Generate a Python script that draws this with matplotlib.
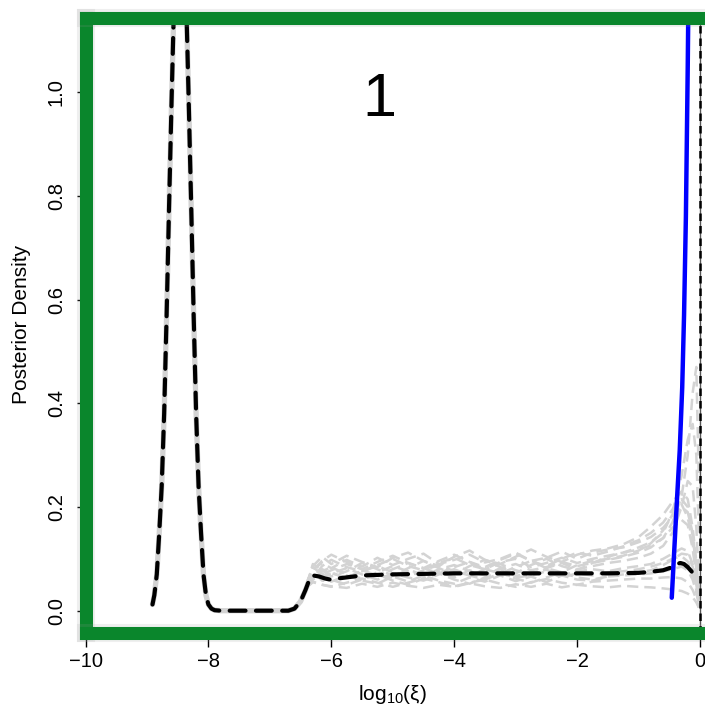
import matplotlib
matplotlib.use("Agg")
import matplotlib.pyplot as plt
import matplotlib.patheffects as pe

plt.rcParams['font.family'] = ['Liberation Sans', 'DejaVu Sans']
plt.rcParams['mathtext.fontset'] = 'custom'
plt.rcParams['mathtext.rm'] = 'Liberation Sans'
plt.rcParams['mathtext.it'] = 'Liberation Sans:italic'

# ---------------- data ----------------
# mean posterior density (black dashed)
black_x = [-8.91, -8.88, -8.84, -8.80, -8.76, -8.72, -8.68, -8.64, -8.60, -8.56,
           -8.52, -8.48, -8.44, -8.40, -8.36, -8.32, -8.28, -8.24, -8.20, -8.16,
           -8.12, -8.08, -8.04, -8.00, -7.95, -7.90, -7.80, -7.50, -7.20, -6.90,
           -6.70, -6.60, -6.50, -6.42, -6.35, -6.30, -6.20, -6.10, -6.02, -5.90,
           -5.70, -5.50, -5.00, -4.50, -4.00, -3.50, -3.00, -2.50, -2.00, -1.50,
           -1.00, -0.80, -0.60, -0.45, -0.38, -0.32, -0.26, -0.20, -0.14, -0.09,
           -0.05]
black_y = [0.012, 0.030, 0.070, 0.150, 0.240, 0.380, 0.570, 0.780, 0.980, 1.170,
           1.400, 1.550, 1.550, 1.400, 1.170, 0.980, 0.780, 0.570, 0.380, 0.240,
           0.150, 0.070, 0.030, 0.012, 0.004, 0.001, 0.000, 0.000, 0.000, 0.000,
           0.000, 0.004, 0.018, 0.040, 0.062, 0.068, 0.066, 0.062, 0.060, 0.062,
           0.065, 0.068, 0.070, 0.071, 0.072, 0.072, 0.072, 0.072, 0.072, 0.072,
           0.073, 0.075, 0.078, 0.084, 0.090, 0.092, 0.090, 0.084, 0.076, 0.068,
           0.062]

# individual posterior densities (light gray dashed), right part
gray_x = [-6.40, -6.30, -6.15, -6.00, -5.75, -5.50, -5.25, -5.00, -4.75, -4.50,
          -4.25, -4.00, -3.75, -3.50, -3.25, -3.00, -2.75, -2.50, -2.25, -2.00,
          -1.75, -1.50, -1.25, -1.00, -0.80, -0.60, -0.45, -0.30, -0.20, -0.12,
          -0.06, -0.02]
gray_1 = [0.050, 0.080, 0.092, 0.082, 0.098, 0.085, 0.102, 0.088, 0.100, 0.110,
          0.090, 0.098, 0.108, 0.093, 0.100, 0.112, 0.096, 0.102, 0.114, 0.100,
          0.112, 0.118, 0.122, 0.132, 0.142, 0.160, 0.180, 0.200, 0.190, 0.150,
          0.090, 0.040]
gray_2 = [0.045, 0.055, 0.050, 0.047, 0.044, 0.052, 0.046, 0.054, 0.048, 0.044,
          0.050, 0.046, 0.053, 0.047, 0.044, 0.051, 0.046, 0.052, 0.045, 0.050,
          0.047, 0.045, 0.048, 0.046, 0.045, 0.043, 0.041, 0.038, 0.033, 0.026,
          0.016, 0.006]
gray_3 = [0.050, 0.070, 0.064, 0.074, 0.062, 0.078, 0.068, 0.064, 0.080, 0.068,
          0.076, 0.064, 0.078, 0.069, 0.080, 0.067, 0.073, 0.079, 0.068, 0.076,
          0.080, 0.076, 0.082, 0.086, 0.090, 0.100, 0.110, 0.120, 0.115, 0.090,
          0.055, 0.020]
gray_4 = [0.048, 0.066, 0.076, 0.084, 0.070, 0.062, 0.074, 0.086, 0.076, 0.066,
          0.080, 0.088, 0.076, 0.068, 0.082, 0.090, 0.078, 0.084, 0.094, 0.086,
          0.092, 0.098, 0.104, 0.112, 0.122, 0.140, 0.170, 0.220, 0.300, 0.420,
          0.470, 0.250]
gray_5 = [0.046, 0.062, 0.086, 0.098, 0.084, 0.076, 0.088, 0.100, 0.086, 0.078,
          0.092, 0.102, 0.088, 0.080, 0.094, 0.100, 0.084, 0.092, 0.102, 0.092,
          0.100, 0.106, 0.112, 0.122, 0.132, 0.150, 0.190, 0.260, 0.330, 0.360,
          0.300, 0.150]
gray_6 = [0.050, 0.074, 0.058, 0.056, 0.068, 0.058, 0.052, 0.066, 0.056, 0.068,
          0.058, 0.052, 0.064, 0.056, 0.068, 0.057, 0.066, 0.055, 0.068, 0.060,
          0.058, 0.066, 0.068, 0.070, 0.072, 0.076, 0.080, 0.085, 0.078, 0.060,
          0.035, 0.012]
gray_7 = [0.052, 0.086, 0.104, 0.090, 0.106, 0.094, 0.084, 0.102, 0.112, 0.096,
          0.086, 0.104, 0.116, 0.098, 0.090, 0.104, 0.118, 0.104, 0.094, 0.108,
          0.116, 0.120, 0.128, 0.142, 0.162, 0.185, 0.210, 0.230, 0.215, 0.160,
          0.095, 0.040]
gray_8 = [0.047, 0.062, 0.066, 0.072, 0.082, 0.070, 0.060, 0.072, 0.064, 0.058,
          0.070, 0.080, 0.068, 0.060, 0.072, 0.064, 0.068, 0.076, 0.064, 0.072,
          0.068, 0.074, 0.076, 0.080, 0.085, 0.092, 0.100, 0.105, 0.095, 0.070,
          0.040, 0.015]
gray_9 = [0.049, 0.084, 0.070, 0.078, 0.090, 0.080, 0.068, 0.080, 0.092, 0.082,
          0.072, 0.084, 0.094, 0.080, 0.072, 0.084, 0.096, 0.082, 0.074, 0.088,
          0.096, 0.100, 0.106, 0.116, 0.130, 0.155, 0.185, 0.205, 0.180, 0.130,
          0.070, 0.025]
gray_10 = [0.046, 0.056, 0.050, 0.046, 0.054, 0.062, 0.054, 0.046, 0.054, 0.062,
           0.055, 0.047, 0.054, 0.060, 0.052, 0.046, 0.055, 0.061, 0.054, 0.050,
           0.056, 0.058, 0.060, 0.062, 0.062, 0.064, 0.065, 0.062, 0.055, 0.040,
           0.022, 0.006]
gray_11 = [0.048, 0.068, 0.080, 0.072, 0.064, 0.076, 0.086, 0.074, 0.066, 0.078,
           0.088, 0.076, 0.068, 0.080, 0.090, 0.078, 0.070, 0.082, 0.092, 0.080,
           0.086, 0.092, 0.096, 0.102, 0.110, 0.125, 0.150, 0.200, 0.250, 0.240,
           0.160, 0.060]
gray_12 = [0.050, 0.090, 0.078, 0.066, 0.076, 0.092, 0.080, 0.068, 0.082, 0.096,
           0.082, 0.070, 0.086, 0.098, 0.084, 0.072, 0.088, 0.100, 0.086, 0.078,
           0.092, 0.104, 0.112, 0.118, 0.126, 0.140, 0.160, 0.175, 0.165, 0.120,
           0.065, 0.020]
gray_13 = [0.047, 0.060, 0.072, 0.060, 0.050, 0.060, 0.070, 0.058, 0.050, 0.062,
           0.072, 0.060, 0.052, 0.064, 0.074, 0.062, 0.054, 0.064, 0.074, 0.064,
           0.060, 0.066, 0.070, 0.074, 0.078, 0.088, 0.098, 0.110, 0.108, 0.085,
           0.050, 0.018]
gray_14 = [0.051, 0.078, 0.096, 0.108, 0.094, 0.080, 0.094, 0.106, 0.092, 0.082,
           0.096, 0.108, 0.094, 0.084, 0.098, 0.110, 0.096, 0.086, 0.100, 0.112,
           0.106, 0.114, 0.124, 0.136, 0.150, 0.170, 0.195, 0.215, 0.200, 0.145,
           0.080, 0.030]
gray_series = [gray_1, gray_2, gray_3, gray_4, gray_5, gray_6, gray_7, gray_8,
               gray_9, gray_10, gray_11, gray_12, gray_13, gray_14]

# prior density (blue)
blue_x = [-0.46, -0.44, -0.42, -0.40, -0.37, -0.33, -0.29, -0.26, -0.23, -0.20, -0.17]
blue_y = [0.025, 0.070, 0.115, 0.160, 0.225, 0.310, 0.430, 0.570, 0.760, 1.050, 1.400]

vline_x = 0.0
panel_label = "1"
x_ticks = [-10, -8, -6, -4, -2, 0]
y_ticks = [0.0, 0.2, 0.4, 0.6, 0.8, 1.0]
x_label = r"log$_{\mathregular{10}}$(ξ)"
y_label = "Posterior Density"

# ---------------- figure ----------------
W, H = 705, 710
fig = plt.figure(figsize=(W / 100, H / 100), dpi=100)
ax = fig.add_axes([85.5 / W, (H - 633) / H, (709 - 85.5) / W, (633 - 18.3) / H])
ax.set_xlim(-9.9805, 0.146)
ax.set_ylim(-0.043, 1.1423)

gray_c = '#d3d3d3'
# gray individual curves: left part coincides with mean
ax.plot(black_x[:35], black_y[:35], color=gray_c, lw=3.8, zorder=1,
        solid_capstyle='round')
for gy in gray_series:
    ax.plot(gray_x, gy, color=gray_c, lw=1.8, linestyle=(0, (4.5, 2.4)), zorder=1)

ax.axvline(vline_x, color='#555555', lw=1.0, zorder=1.5)
ax.axvline(vline_x, color='black', lw=1.8, linestyle=(0, (3, 2)), zorder=1.6)

ax.plot(black_x, black_y, color='black', lw=3.0, linestyle=(0, (3.8, 2.5)),
        zorder=2, dash_capstyle='round')
ax.plot(blue_x, blue_y, color='#0000ff', lw=3.2, zorder=2.2,
        solid_capstyle='round')

ax.text(-5.21, 0.954, panel_label, fontsize=44, ha='center', va='baseline',
        color='black')

green = '#0a862c'
for s in ax.spines.values():
    s.set_color(green)
    s.set_linewidth(9.4)
    s.set_capstyle('projecting')
    s.set_zorder(4)
    s.set_path_effects([pe.Stroke(linewidth=13.0, foreground='#999999', alpha=0.15),
                        pe.Normal()])
ax.set_xticks(x_ticks)
ax.set_xticklabels([str(v).replace('-', '\u2212') for v in x_ticks])
ax.set_yticks(y_ticks)
ax.set_yticklabels([f"{v:.1f}" for v in y_ticks])
ax.tick_params(axis='x', direction='out', length=10.0, width=1.0, pad=3.5,
               labelsize=14.5, color='black')
ax.tick_params(axis='y', direction='out', length=6.2, width=1.0, pad=8.0,
               labelsize=14.5, color='black', labelrotation=90)
for lab in ax.get_yticklabels():
    lab.set_va('center')
ax.xaxis.set_zorder(3)
ax.yaxis.set_zorder(3)

fig.text(392 / W, 1 - 695 / H, x_label, fontsize=15, ha='center', va='center')
fig.text(22 / W, 1 - 324 / H, y_label, fontsize=15, ha='center', va='center',
         rotation=90)

fig.savefig("out.png", dpi=100)
